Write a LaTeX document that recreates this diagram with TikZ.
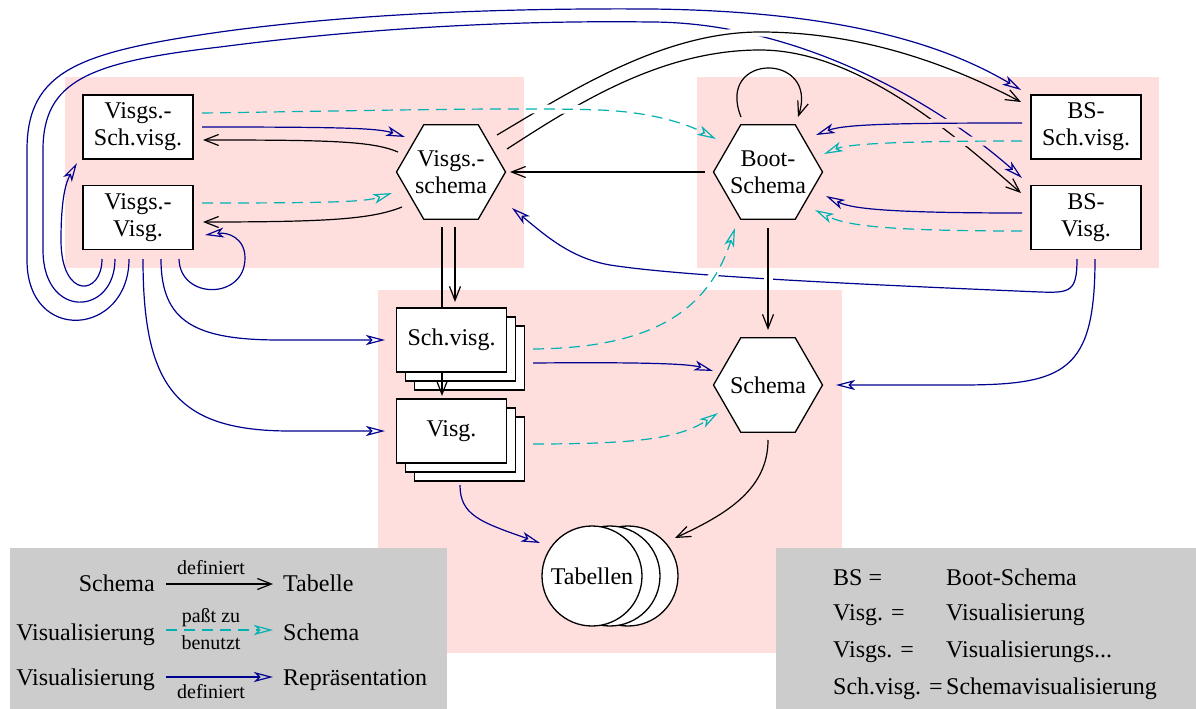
\documentclass[tikz,border=0pt]{standalone}
\usepackage{fontspec}
\setmainfont{Liberation Serif}
\usetikzlibrary{arrows.meta,shapes.geometric}

\definecolor{regionpink}{RGB}{255,222,222}
\definecolor{legendgray}{RGB}{204,204,204}
\definecolor{repblue}{RGB}{0,0,144}
\definecolor{fitcyan}{RGB}{0,178,178}

\tikzset{
  txt/.style={inner sep=0pt, font=\fontsize{24}{27}\selectfont},
  small/.style={inner sep=0pt, font=\fontsize{20}{22}\selectfont},
  box/.style={draw, fill=white, line width=1.3pt, minimum width=110pt,
    minimum height=64pt, inner sep=0pt, align=center,
    font=\fontsize{24}{27}\selectfont},
  backbox/.style={draw, fill=white, line width=1.3pt, minimum width=110pt,
    minimum height=64pt, inner sep=0pt},
  hexa/.style={draw, fill=white, line width=1.3pt, regular polygon,
    regular polygon sides=6, minimum size=109pt, inner sep=0pt},
  hexlabel/.style={inner sep=0pt, align=center, font=\fontsize{24}{27}\selectfont},
  disc/.style={draw, fill=white, line width=1.3pt, circle,
    minimum size=100pt, inner sep=0pt, font=\fontsize{24}{27}\selectfont},
  plain/.style={draw=black, line width=1.2pt},
  blk/.style={plain, -{Straight Barb[length=14pt,width=11pt]}},
  rep/.style={draw=repblue, line width=1.2pt,
    -{Stealth[open,length=19pt,width=10pt,inset=5pt]}},
  fit/.style={draw=fitcyan, line width=1.2pt, dash pattern=on 11pt off 7pt,
    -{Stealth[open,length=19pt,width=10pt,inset=5pt]}},
  halo/.style={line width=9pt},
}

\begin{document}
\begin{tikzpicture}[x=1pt, y=-1pt]
\useasboundingbox (0,0) rectangle (1196,709);
\fill[white] (0,0) rectangle (1196,709);

% shaded regions and legend panels
\fill[regionpink] (65,77) rectangle (524,268);
\fill[regionpink] (697,77) rectangle (1159,268);
\fill[regionpink] (378,290) rectangle (842,653);
\fill[legendgray] (10,548) rectangle (447,709);
\fill[legendgray] (776,548) rectangle (1196,709);

% visualisation side
\node[box] (vsv) at (138,127) {Visgs.-\\Sch.visg.};
\node[box] (vv) at (138,217.5) {Visgs.-\\Visg.};
\node[hexa] (vs) at (451,172) {};
\node[hexlabel] (vs-text) at (vs.center) {Visgs.-\\schema};

% boot side
\node[hexa] (boot) at (768,172) {};
\node[hexlabel] (boot-text) at (boot.center) {Boot-\\Schema};
\node[box] (bssv) at (1086,127) {BS-\\Sch.visg.};
\node[box] (bsv) at (1086,217.5) {BS-\\Visg.};

% stacked visualisations
\node[backbox] (sv3) at (469.5,358) {};
\node[backbox] (sv2) at (460.5,349) {};
\node[box] (sv) at (451.5,340) {Sch.visg.};
\node[backbox] (vg3) at (469.5,449) {};
\node[backbox] (vg2) at (460.5,440) {};
\node[box] (vg) at (451.5,431) {Visg.};

% schema and tables
\node[hexa] (schema) at (768,385) {};
\node[hexlabel] (schema-text) at (schema.center) {Schema};
\node[disc] (tab3) at (628,576) {};
\node[disc] (tab2) at (610,576) {};
\node[disc] (tab) at (592,576) {Tabellen};

% ---- connectors that others cross ----
\draw[rep] ([shift={(-23,41.5)}]vv.center) .. controls (115,316) and (43,320) .. (43,250)
  -- (43,150) .. controls (43,80) and (90,62) .. (220,47)
  .. controls (350,30) and (500,20) .. (650,22)
  .. controls (800,22) and (940,105) .. ([shift={(-64,-39.5)}]bsv.center);
\draw[rep] ([shift={(-9,41.5)}]bsv.center) .. controls (1077,292) and (1070,293) .. (1040,292)
  .. controls (850,284) and (680,276) .. (610,265)
  .. controls (570,258) and (545,235) .. ([shift={(61,36)}]vs.center);

% gap in the inner top line under the upper black arc
\begin{scope}
  \clip (705,22) rectangle (835,44);
  \draw[halo, white] ([shift={(46,-37)}]vs.center) .. controls (565,95) and (660,32) .. (760,32)
    .. controls (870,32) and (960,70) .. ([shift={(-65,-25)}]bssv.center);
\end{scope}

% black: Visgs.-schema to the BS boxes
\draw[blk] ([shift={(46,-37)}]vs.center) .. controls (565,95) and (660,32) .. (760,32)
  .. controls (870,32) and (960,70) .. ([shift={(-65,-25)}]bssv.center);
\draw[blk] ([shift={(56,-23)}]vs.center) .. controls (575,105) and (660,50) .. (760,50)
  .. controls (860,50) and (960,140) .. ([shift={(-65,-24.5)}]bsv.center);

% gaps in the black arcs under the dashed line
\begin{scope}
  \clip (527,90) rectangle (615,128);
  \draw[halo, white] ([shift={(64,-14)}]vsv.center) .. controls (350,111) and (520,107) .. (600,110)
    .. controls (650,112) and (685,123) .. ([shift={(-52,-33)}]boot.center);
\end{scope}
\draw[fit] ([shift={(64,-14)}]vsv.center) .. controls (350,111) and (520,107) .. (600,110)
  .. controls (650,112) and (685,123) .. ([shift={(-52,-33)}]boot.center);

% gaps under the two lines leaving BS-Sch.visg.
\begin{scope}
  \clip (895,110) rectangle (1000,152);
  \draw[halo, regionpink] ([shift={(-64,-4)}]bssv.center) .. controls (900,123) and (845,124) .. ([shift={(48,-37)}]boot.center);
  \draw[halo, regionpink] ([shift={(-64,14)}]bssv.center) .. controls (880,141) and (845,145) .. ([shift={(56,-18)}]boot.center);
\end{scope}
\draw[rep] ([shift={(-64,-4)}]bssv.center) .. controls (900,123) and (845,124) .. ([shift={(48,-37)}]boot.center);
\draw[fit] ([shift={(-64,14)}]bssv.center) .. controls (880,141) and (845,145) .. ([shift={(56,-18)}]boot.center);

% gaps in the long return line
\begin{scope}
  \clip (680,268) rectangle (790,289);
  \draw[halo, white] ([shift={(0,56)}]boot.center) -- ([shift={(0,-55)}]schema.center);
  \draw[halo, white] ([shift={(81.5,9)}]sv.center) .. controls (660,348) and (710,305) .. ([shift={(-33,56)}]boot.center);
\end{scope}
\draw[blk] ([shift={(0,56)}]boot.center) -- ([shift={(0,-55)}]schema.center);
\draw[fit] ([shift={(81.5,9)}]sv.center) .. controls (660,348) and (710,305) .. ([shift={(-33,56)}]boot.center);

% ---- black: definiert ----
\draw[blk] ([shift={(-53,-20)}]vs.center) .. controls (372,141) and (330,140) .. ([shift={(65,13)}]vsv.center);
\draw[blk] ([shift={(-49,35)}]vs.center) .. controls (372,219) and (330,222) .. ([shift={(65,4.5)}]vv.center);
\draw[blk] ([shift={(-63,0)}]boot.center) -- ([shift={(59,0)}]vs.center);
\draw[plain] ([shift={(-9,55)}]vs.center) -- ([shift={(-9.5,-32)}]sv.center);
\draw[blk] ([shift={(4,55)}]vs.center) -- ([shift={(3.5,-38)}]sv.center);
\draw[blk] ([shift={(-9.5,32)}]sv.center) -- ([shift={(-9.5,-35)}]vg.center);
\draw[blk] ([shift={(0,55)}]schema.center) .. controls (768,490) and (725,515) .. ([shift={(83,-38)}]tab.center);
\draw[blk] ([shift={(-27,-55)}]boot.center) .. controls (715,52) and (820,52) .. ([shift={(30,-55)}]boot.center);

% ---- blue: definiert Repraesentation ----
\draw[rep] ([shift={(64,0)}]vsv.center) .. controls (340,127) and (378,128) .. ([shift={(-46,-35)}]vs.center);
\draw[rep] ([shift={(41,41.5)}]vv.center) .. controls (180,300) and (245,300) .. (245,258)
  .. controls (245,238) and (228,232) .. ([shift={(67,17.5)}]vv.center);
\draw[rep] ([shift={(-36,41.5)}]vv.center) .. controls (102,296) and (61,300) .. (61,240)
  .. controls (61,198) and (66,182) .. ([shift={(-61,36)}]vsv.center);
\draw[rep] ([shift={(-9,41.5)}]vv.center) .. controls (129,336) and (27,345) .. (27,260)
  -- (27,150) .. controls (27,70) and (80,52) .. (220,32)
  .. controls (350,14) and (500,8) .. (650,9)
  .. controls (850,11) and (950,48) .. ([shift={(-65,-37)}]bssv.center);
\draw[rep] ([shift={(23,41.5)}]vv.center) .. controls (161,322) and (195,340) .. (280,340)
  -- ([shift={(-66.5,0)}]sv.center);
\draw[rep] ([shift={(5,41.5)}]vv.center) .. controls (143,385) and (175,431) .. (290,431)
  -- ([shift={(-66.5,0)}]vg.center);
\draw[rep] ([shift={(9,41.5)}]bsv.center) .. controls (1095,372) and (1065,385) .. (960,385)
  -- ([shift={(68,0)}]schema.center);
\draw[rep] ([shift={(81.5,23)}]sv.center) .. controls (650,362) and (690,364) .. ([shift={(-55,-14)}]schema.center);
\draw[rep] ([shift={(8.5,54)}]vg.center) .. controls (460,515) and (480,522) .. ([shift={(-52,-33)}]tab.center);
\draw[rep] ([shift={(-64,-4.5)}]bsv.center) .. controls (880,213) and (850,208) .. ([shift={(58,24)}]boot.center);

% ---- cyan dashed: passt zu / benutzt ----
\draw[fit] ([shift={(64,-14.5)}]vv.center) .. controls (330,203) and (365,202) .. ([shift={(-59,21)}]vs.center);
\draw[fit] ([shift={(-64,13.5)}]bsv.center) .. controls (880,231) and (845,225) .. ([shift={(47,38)}]boot.center);
\draw[fit] ([shift={(81.5,13)}]vg.center) .. controls (640,444) and (680,438) .. ([shift={(-50,28)}]schema.center);

% ---- legend: arrow kinds ----
\node[txt, anchor=base east] (k1a) at (155,591) {Schema};
\node[txt, anchor=base west] (k1b) at (283,591) {Tabelle};
\draw[blk] ([shift={(11,-7)}]k1a.base east) -- ([shift={(-10,-7)}]k1b.base west);
\node[small, anchor=base] (k1l) at (211,574) {definiert};

\node[txt, anchor=base east] (k2a) at (155,640) {Visualisierung};
\node[txt, anchor=base west] (k2b) at (283,640) {Schema};
\draw[fit] ([shift={(11,-10)}]k2a.base east) -- ([shift={(-10,-10)}]k2b.base west);
\node[small, anchor=base] (k2l) at (211,622) {paßt zu};
\node[small, anchor=base] (k2m) at (211,649) {benutzt};

\node[txt, anchor=base east] (k3a) at (155,685) {Visualisierung};
\node[txt, anchor=base west] (k3b) at (283,685) {Repräsentation};
\draw[rep] ([shift={(11,-8)}]k3a.base east) -- ([shift={(-10,-8)}]k3b.base west);
\node[small, anchor=base] (k3l) at (211,698) {definiert};

% ---- legend: abbreviations ----
\node[txt, anchor=base west] (a1) at (833,585) {BS =};
\node[txt, anchor=base west] (b1) at (946,585) {Boot-Schema};
\node[txt, anchor=base west] (a2) at (833,620) {Visg. =};
\node[txt, anchor=base west] (b2) at (946,620) {Visualisierung};
\node[txt, anchor=base west] (a3) at (833,657) {Visgs. =};
\node[txt, anchor=base west] (b3) at (946,657) {Visualisierungs...};
\node[txt, anchor=base west] (a4) at (833,694) {Sch.visg. =};
\node[txt, anchor=base west] (b4) at (946,694) {Schemavisualisierung};
\end{tikzpicture}
\end{document}
